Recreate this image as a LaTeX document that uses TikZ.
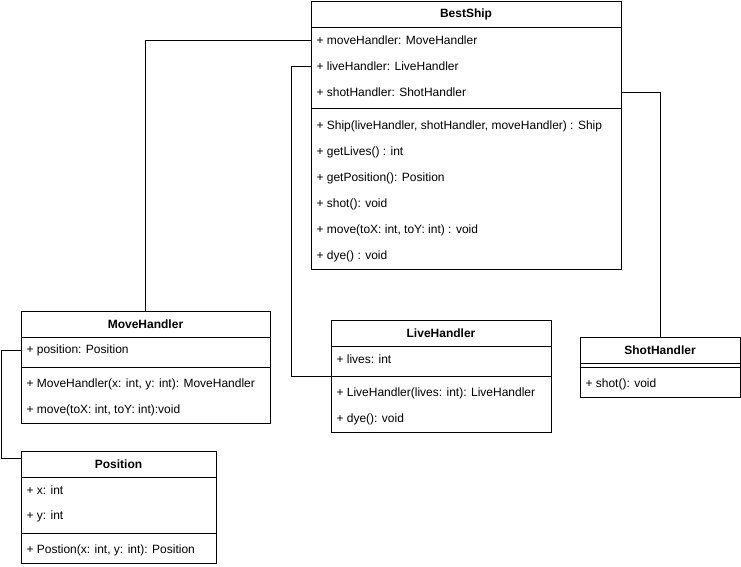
\documentclass[tikz,border=0pt]{standalone}
\usepackage{fontspec}
\setmainfont{Liberation Sans}
\begin{document}
\begin{tikzpicture}[x=1pt,y=-1pt,line width=1pt,
  every node/.style={font=\fontsize{12}{14}\selectfont},
  clsbox/.style={draw,anchor=north west,inner sep=0,outer sep=0},
  ttl/.style={font=\fontsize{12}{14}\selectfont\bfseries,inner sep=0},
  row/.style={anchor=west,inner sep=0}]
\useasboundingbox (0,0) rectangle (741,566);

% BestShip
\node[clsbox,minimum width=310pt,minimum height=268pt] (bs) at (311,1) {};
\node[ttl] (bst) at (466,14) {BestShip};
\draw (311,27) -- (621,27);
\node[row] (bsmove) at (316,40) {+ moveHandler: MoveHandler};
\node[row] (bslive) at (316,66) {+ liveHandler: LiveHandler};
\node[row] (bsshot) at (316,92) {+ shotHandler: ShotHandler};
\draw (311,108) -- (621,108);
\node[row] (bsm1) at (316,126) {+ Ship(liveHandler, shotHandler, moveHandler) : Ship};
\node[row] (bsm2) at (316,152) {+ getLives() : int};
\node[row] (bsm3) at (316,178) {+ getPosition(): Position};
\node[row] (bsm4) at (316,204) {+ shot(): void};
\node[row] (bsm5) at (316,230) {+ move(toX: int, toY: int) : void};
\node[row] (bsm6) at (316,256) {+ dye() : void};

% MoveHandler
\node[clsbox,minimum width=249pt,minimum height=112pt] (mh) at (21,311) {};
\node[ttl] (mht) at (145.5,324) {MoveHandler};
\draw (21,337) -- (270,337);
\node[row] (mhpos) at (26,350) {+ position: Position};
\draw (21,367) -- (270,367);
\node[row] (mhm1) at (26,384) {+ MoveHandler(x: int, y: int): MoveHandler};
\node[row] (mhm2) at (26,410) {+ move(toX: int, toY: int):void};

% Position
\node[clsbox,minimum width=195pt,minimum height=112pt] (ps) at (21,451) {};
\node[ttl] (pst) at (118.5,464) {Position};
\draw (21,477) -- (216,477);
\node[row] (psx) at (26,490) {+ x: int};
\node[row] (psy) at (26,516) {+ y: int};
\draw (21,533) -- (216,533);
\node[row] (psm1) at (26,550) {+ Postion(x: int, y: int): Position};

% LiveHandler
\node[clsbox,minimum width=220pt,minimum height=112pt] (lh) at (331,320) {};
\node[ttl] (lht) at (441,333) {LiveHandler};
\draw (331,346) -- (551,346);
\node[row] (lhlives) at (336,359) {+ lives: int};
\draw (331,376) -- (551,376);
\node[row] (lhm1) at (336,393) {+ LiveHandler(lives: int): LiveHandler};
\node[row] (lhm2) at (336,419) {+ dye(): void};

% ShotHandler
\node[clsbox,minimum width=160pt,minimum height=60pt] (sh) at (580,337) {};
\node[ttl] (sht) at (660,350) {ShotHandler};
\draw (580,363) -- (740,363);
\draw (580,367) -- (740,367);
\node[row] (shm1) at (585,384) {+ shot(): void};

% connectors
\coordinate (lhjoin) at (331,376);
\coordinate (psjoin) at (21,458);
\draw (bs.west |- bsmove) -| (mh.north);
\draw (bs.west |- bslive) -- ++(-20,0) |- (lhjoin);
\draw (bs.east |- bsshot) -| (sh.north);
\draw (mh.west |- mhpos) -- ++(-20,0) |- (psjoin);
\end{tikzpicture}
\end{document}
